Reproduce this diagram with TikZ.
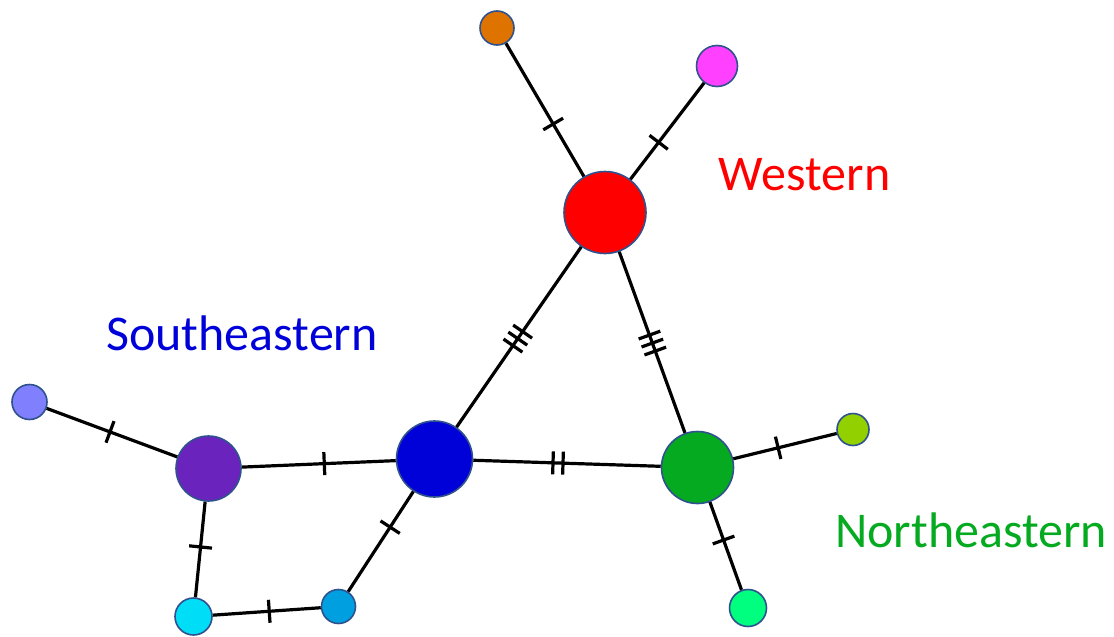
\documentclass[tikz,border=0pt]{standalone}
\usepackage{fontspec}
\setmainfont{Carlito}
\usetikzlibrary{decorations.markings}
\definecolor{cOrange}{RGB}{222,115,0}
\definecolor{cMagenta}{RGB}{255,64,255}
\definecolor{cRed}{RGB}{255,0,0}
\definecolor{cLav}{RGB}{128,128,255}
\definecolor{cPurple}{RGB}{106,35,188}
\definecolor{cBlue}{RGB}{0,0,216}
\definecolor{cGreen}{RGB}{5,170,33}
\definecolor{cYG}{RGB}{146,208,0}
\definecolor{cCyan}{RGB}{0,221,246}
\definecolor{cSky}{RGB}{0,160,224}
\definecolor{cMint}{RGB}{0,255,127}
\definecolor{cOutline}{RGB}{47,82,143}
\tikzset{
  hap/.style={circle, draw=cOutline, line width=1.6pt, inner sep=0pt, fill=#1},
  edge/.style={line width=3.2pt, black},
  onetick/.style={postaction={decorate, decoration={markings,
      mark=at position #1 with {\draw[line width=3.2pt] (0pt,-11.5pt) -- (0pt,11.5pt);}}}},
  twotick/.style={postaction={decorate, decoration={markings,
      mark=at position #1 with {\draw[line width=3.2pt] (-5pt,-11.5pt) -- (-5pt,11.5pt) (5pt,-11.5pt) -- (5pt,11.5pt);}}}},
  threetick/.style={postaction={decorate, decoration={markings,
      mark=at position #1 with {\draw[line width=3.2pt] (-8.5pt,-11.5pt) -- (-8.5pt,11.5pt) (0pt,-11.5pt) -- (0pt,11.5pt) (8.5pt,-11.5pt) -- (8.5pt,11.5pt);}}}},
  region/.style={anchor=base, font=\fontsize{50}{60}\selectfont, inner sep=0pt}
}
\begin{document}
\begin{tikzpicture}[x=1pt, y=-1pt]
\useasboundingbox (0,0) rectangle (1114,637);
% haplotype nodes
\node[hap=cOrange, minimum size=34pt] (O) at (497,28) {};
\node[hap=cMagenta, minimum size=41pt] (M) at (717,66) {};
\node[hap=cRed, minimum size=82pt] (R) at (605,212.5) {};
\node[hap=cLav, minimum size=35pt] (L) at (29.5,402) {};
\node[hap=cPurple, minimum size=65pt] (P) at (208.5,468.5) {};
\node[hap=cBlue, minimum size=76pt] (B) at (434.5,459) {};
\node[hap=cGreen, minimum size=72pt] (G) at (697.5,467.5) {};
\node[hap=cYG, minimum size=32pt] (Y) at (853,429.5) {};
\node[hap=cCyan, minimum size=37pt] (C) at (193.5,616.5) {};
\node[hap=cSky, minimum size=34pt] (S) at (338.5,606.5) {};
\node[hap=cMint, minimum size=37pt] (N) at (748,608) {};
% connectors with mutation ticks
\draw[edge, onetick=0.606] (O) -- (R);
\draw[edge, onetick=0.618] (M) -- (R);
\draw[edge, threetick=0.509] (R) -- (B);
\draw[edge, threetick=0.504] (R) -- (G);
\draw[edge, twotick=0.452] (B) -- (G);
\draw[edge, onetick=0.536] (P) -- (B);
\draw[edge, onetick=0.485] (L) -- (P);
\draw[edge, onetick=0.474] (P) -- (C);
\draw[edge, onetick=0.523] (C) -- (S);
\draw[edge, onetick=0.356] (B) -- (S);
\draw[edge, onetick=0.434] (G) -- (Y);
\draw[edge, onetick=0.432] (G) -- (N);
% labels
\node[region, text=cRed] (tw) at (804.5,190) {Western};
\node[region, text=cBlue] (ts) at (242,350) {Southeastern};
\node[region, text=cGreen] (tn) at (971,547) {Northeastern};
\end{tikzpicture}
\end{document}
